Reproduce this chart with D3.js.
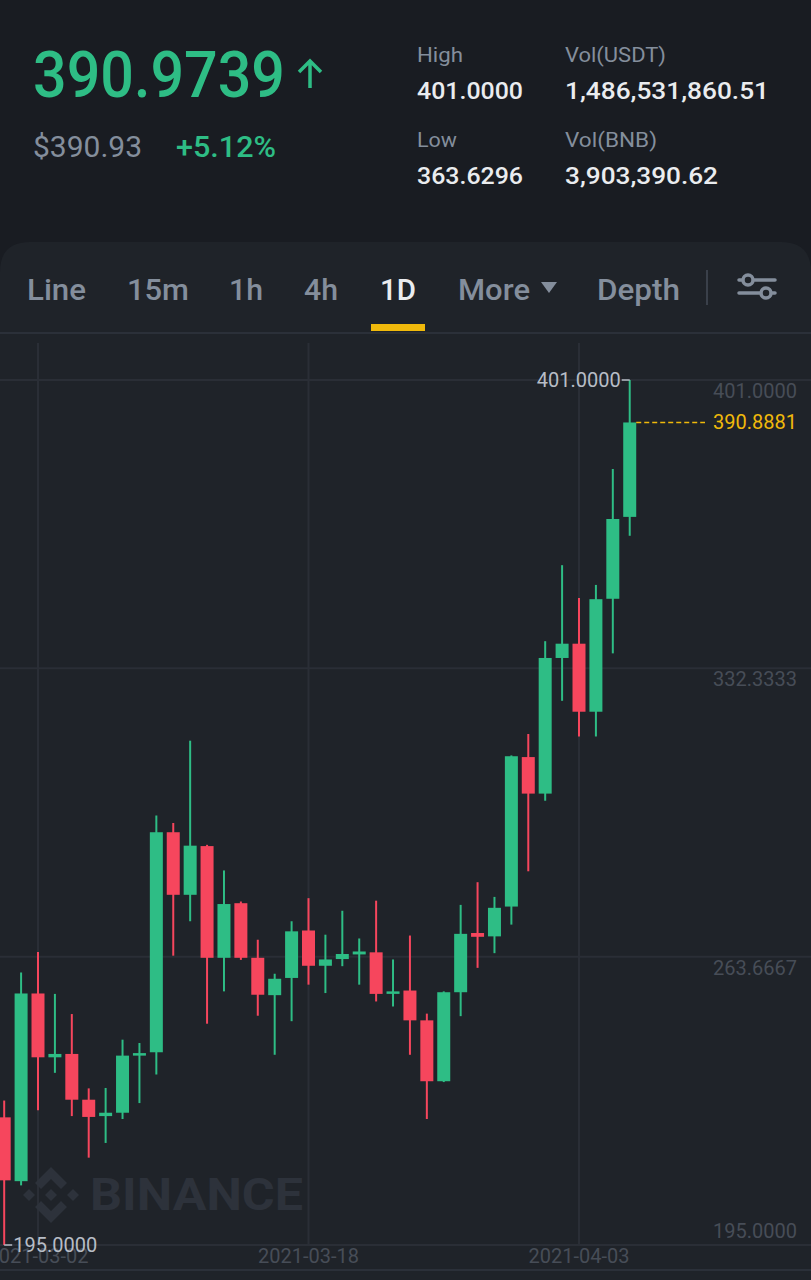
<!DOCTYPE html>
<html>
<head>
<meta charset="utf-8">
<script src="https://cdn.jsdelivr.net/npm/d3@7"></script>
<style>
  html, body { margin: 0; padding: 0; background: #191c22; }
  svg { display: block; font-family: Roboto, "Noto Sans", sans-serif; }
</style>
</head>
<body>
<div id="area"></div>
<script>
'use strict';

// daily candles BNB/USDT
const dates = ['2021-02-28','2021-03-01','2021-03-02','2021-03-03','2021-03-04','2021-03-05','2021-03-06',
  '2021-03-07','2021-03-08','2021-03-09','2021-03-10','2021-03-11','2021-03-12','2021-03-13','2021-03-14',
  '2021-03-15','2021-03-16','2021-03-17','2021-03-18','2021-03-19','2021-03-20','2021-03-21','2021-03-22',
  '2021-03-23','2021-03-24','2021-03-25','2021-03-26','2021-03-27','2021-03-28','2021-03-29','2021-03-30',
  '2021-03-31','2021-04-01','2021-04-02','2021-04-03','2021-04-04','2021-04-05','2021-04-06'];
const opens  = [225.4,210.2,254.9,239.7,240.5,229.6,225.7,226.5,240.1,240.9,293.3,278.4,290.0,263.4,276.4,
  263.4,254.5,258.6,269.9,261.5,263.1,264.2,264.7,254.9,255.6,248.5,234.0,255.2,269.3,268.5,275.6,
  311.2,302.5,334.8,338.2,322.0,348.9,368.4];
const highs  = [229.4,259.9,264.8,254.8,250.0,232.3,232.4,243.9,243.1,297.3,295.5,315.1,290.3,284.2,276.8,
  267.7,259.6,272.1,277.6,268.9,274.6,268.0,277.0,263.0,268.7,250.1,255.4,276.0,281.4,277.9,311.6,
  316.7,338.8,356.9,349.1,352.2,379.8,401.0];
const lows   = [195.0,209.2,227.1,236.0,225.7,215.8,219.3,225.0,228.8,235.6,263.9,272.1,247.7,255.4,262.9,
  249.6,240.3,248.3,257.0,255.0,261.4,257.0,253.0,251.8,240.3,225.0,233.8,249.5,261.0,264.5,271.3,
  284.0,300.8,324.6,316.1,316.1,335.9,363.9];
const closes = [210.4,254.9,239.7,240.5,229.6,225.5,226.5,240.1,240.7,293.3,278.4,290.1,263.4,276.2,263.4,
  254.6,258.4,269.7,261.5,263.0,264.3,264.9,254.8,255.4,248.5,234.0,255.2,269.1,268.4,275.3,311.4,
  302.5,334.8,338.2,322.0,348.8,367.9,390.8881];

const priceTicks = [401.0000, 332.3333, 263.6667, 195.0000];
const dateTicks = ['2021-03-02', '2021-03-18', '2021-04-03'];

// header
const lastTrade = '390.9739';
const fiatPrice = '$390.93';
const changePct = '+5.12%';
const statLabels = ['High', 'Vol(USDT)', 'Low', 'Vol(BNB)'];
const statValues = ['401.0000', '1,486,531,860.51', '363.6296', '3,903,390.62'];

// tab bar
const tabs = ['Line', '15m', '1h', '4h', '1D', 'More', 'Depth'];
const activeTab = '1D';

const W = 811, H = 1280;
const GREEN = '#2ebd85', RED = '#f6465d', YELLOW = '#f0b90b';
const GRAY = '#848e9c', WHITE = '#eaecef', DIM = '#474d57', GRID = '#2a2e36';
const PANEL = '#1f2329';

const svg = d3.select('#area').append('svg').attr('width', W).attr('height', H);

// ---------- header ----------
svg.append('rect').attr('width', W).attr('height', H).attr('fill', '#191c22');

svg.append('text').attr('x', 33).attr('y', 97).text(lastTrade)
  .attr('font-size', 64).attr('font-weight', 500).attr('fill', GREEN)
  .attr('textLength', 252).attr('lengthAdjust', 'spacingAndGlyphs');
svg.append('path').attr('d', 'M310,88 V61 M299,72 L310,61 L321,72')
  .attr('stroke', GREEN).attr('stroke-width', 3.5).attr('fill', 'none');

svg.append('text').attr('x', 33).attr('y', 157).text(fiatPrice)
  .attr('font-size', 29).attr('fill', GRAY)
  .attr('textLength', 109).attr('lengthAdjust', 'spacingAndGlyphs');
svg.append('text').attr('x', 176).attr('y', 157).text(changePct)
  .attr('font-size', 29).attr('font-weight', 500).attr('fill', GREEN)
  .attr('textLength', 100).attr('lengthAdjust', 'spacingAndGlyphs');

const statX = [417, 565, 417, 565];
const statY = [62, 62, 147, 147];
const statLW = [46, 101, 40, 92];
const statVW = [106, 204, 106, 153];
statLabels.forEach(function (s, i) {
  svg.append('text').attr('x', statX[i]).attr('y', statY[i]).text(s)
    .attr('font-size', 21).attr('fill', GRAY)
    .attr('textLength', statLW[i]).attr('lengthAdjust', 'spacingAndGlyphs');
  svg.append('text').attr('x', statX[i]).attr('y', statY[i] + 37).text(statValues[i])
    .attr('font-size', 24).attr('font-weight', 500).attr('fill', WHITE)
    .attr('textLength', statVW[i]).attr('lengthAdjust', 'spacingAndGlyphs');
});

// ---------- panel with tabs ----------
svg.append('path')
  .attr('d', 'M0,' + H + ' V272 Q0,242 30,242 H781 Q811,242 811,272 V' + H + ' Z')
  .attr('fill', PANEL);

const tabX = [27, 127, 229, 304, 380, 458, 597];
const tabW = [59, 62, 34, 34, 36, 72, 83];
tabs.forEach(function (t, i) {
  svg.append('text').attr('x', tabX[i]).attr('y', 300).text(t)
    .attr('font-size', 29).attr('font-weight', 500)
    .attr('fill', t === activeTab ? WHITE : GRAY)
    .attr('textLength', tabW[i]).attr('lengthAdjust', 'spacingAndGlyphs');
});
svg.append('path').attr('d', 'M541,282 L557,282 L549,293 Z').attr('fill', GRAY);
svg.append('line').attr('x1', 707).attr('x2', 707).attr('y1', 270).attr('y2', 305)
  .attr('stroke', '#3a404a').attr('stroke-width', 2);
// settings icon
svg.append('path').attr('d', 'M739,280 H775 M739,293 H775')
  .attr('stroke', GRAY).attr('stroke-width', 3.5).attr('stroke-linecap', 'round');
[[748, 280], [766, 293]].forEach(function (c) {
  svg.append('circle').attr('cx', c[0]).attr('cy', c[1]).attr('r', 5)
    .attr('fill', PANEL).attr('stroke', GRAY).attr('stroke-width', 3.5);
});
svg.append('rect').attr('x', 371).attr('y', 324).attr('width', 54).attr('height', 7).attr('fill', YELLOW);
svg.append('line').attr('x1', 0).attr('x2', W).attr('y1', 333).attr('y2', 333)
  .attr('stroke', '#2b3039').attr('stroke-width', 2);

// ---------- chart ----------
const parse = d3.utcParse('%Y-%m-%d');
const candles = dates.map(function (d, i) {
  return { date: parse(d), o: opens[i], h: highs[i], l: lows[i], c: closes[i] };
});

const x = d3.scaleUtc().domain([parse(dateTicks[0]), parse(dateTicks[2])]).range([38, 579]);
const y = d3.scaleLinear().domain([195, 401]).range([1245, 380]);
const bodyW = 13;

svg.append('clipPath').attr('id', 'plot').append('rect')
  .attr('x', 0).attr('y', 334).attr('width', W).attr('height', 936);
const chart = svg.append('g').attr('clip-path', 'url(#plot)');

// grid
chart.selectAll('.hgrid').data(priceTicks).join('line').attr('class', 'hgrid')
  .attr('x1', 0).attr('x2', W).attr('y1', d => y(d)).attr('y2', d => y(d))
  .attr('stroke', GRID).attr('stroke-width', 2);
chart.selectAll('.vgrid').data(dateTicks).join('line').attr('class', 'vgrid')
  .attr('x1', d => x(parse(d))).attr('x2', d => x(parse(d)))
  .attr('y1', 343).attr('y2', y(195))
  .attr('stroke', GRID).attr('stroke-width', 2);

// watermark
const logo = chart.append('g').attr('transform', 'translate(51,1195)').attr('fill', '#2d323b');
['M0,-28 L16,-12 L10,-6 L0,-16 L-10,-6 L-16,-12 Z',
 'M0,28 L16,12 L10,6 L0,16 L-10,6 L-16,12 Z',
 'M-28,0 L-22,-6 L-16,0 L-22,6 Z',
 'M28,0 L22,-6 L16,0 L22,6 Z',
 'M0,-6 L6,0 L0,6 L-6,0 Z'].forEach(function (d) { logo.append('path').attr('d', d); });
chart.append('text').attr('x', 90).attr('y', 1210).text('BINANCE')
  .attr('font-size', 45).attr('font-weight', 700).attr('fill', '#2d323b')
  .attr('textLength', 213).attr('lengthAdjust', 'spacingAndGlyphs');

// axes labels
const fmt = d3.format('.4f');
chart.selectAll('.ylab').data(priceTicks).join('text').attr('class', 'ylab')
  .attr('x', 797).attr('text-anchor', 'end')
  .attr('y', d => d === 195 ? y(d) - 7 : y(d) + 18)
  .attr('font-size', 20).attr('fill', DIM)
  .text(d => fmt(d));

chart.selectAll('.xlab').data(dateTicks).join('text').attr('class', 'xlab')
  .attr('x', d => x(parse(d))).attr('y', 1263).attr('text-anchor', 'middle')
  .attr('font-size', 20).attr('fill', DIM)
  .text(d => d);

// candles
const g = chart.selectAll('.candle').data(candles).join('g').attr('class', 'candle')
  .attr('fill', d => d.c >= d.o ? GREEN : RED)
  .attr('stroke', d => d.c >= d.o ? GREEN : RED);
g.append('line')
  .attr('x1', d => x(d.date)).attr('x2', d => x(d.date))
  .attr('y1', d => y(d.h)).attr('y2', d => y(d.l))
  .attr('stroke-width', 2);
g.append('rect')
  .attr('x', d => x(d.date) - bodyW / 2).attr('width', bodyW)
  .attr('y', d => y(Math.max(d.o, d.c)))
  .attr('height', d => Math.max(2.5, Math.abs(y(d.o) - y(d.c))))
  .attr('stroke', 'none');

// highest / lowest markers
const hiC = candles[d3.maxIndex(candles, d => d.h)];
const loC = candles[d3.minIndex(candles, d => d.l)];
chart.append('line').attr('x1', x(hiC.date) - 8).attr('x2', x(hiC.date))
  .attr('y1', y(hiC.h)).attr('y2', y(hiC.h)).attr('stroke', '#b7bdc6').attr('stroke-width', 1.5);
chart.append('text').attr('x', x(hiC.date) - 9).attr('y', y(hiC.h) + 7)
  .attr('text-anchor', 'end').attr('font-size', 20).attr('fill', '#b7bdc6').text(fmt(hiC.h));
chart.append('line').attr('x1', x(loC.date)).attr('x2', x(loC.date) + 8)
  .attr('y1', y(loC.l)).attr('y2', y(loC.l)).attr('stroke', '#b7bdc6').attr('stroke-width', 1.5);
chart.append('text').attr('x', x(loC.date) + 9).attr('y', y(loC.l) + 7)
  .attr('font-size', 20).attr('fill', '#b7bdc6').text(fmt(loC.l));

// last price line
const last = candles[candles.length - 1];
chart.append('line').attr('x1', x(last.date) + bodyW / 2).attr('x2', 705)
  .attr('y1', y(last.c)).attr('y2', y(last.c))
  .attr('stroke', YELLOW).attr('stroke-width', 1.5).attr('stroke-dasharray', '5,3');
chart.append('text').attr('x', 797).attr('y', y(last.c) + 7).attr('text-anchor', 'end')
  .attr('font-size', 20).attr('fill', YELLOW).text(fmt(last.c));

// bottom border
svg.append('line').attr('x1', 0).attr('x2', W).attr('y1', 1270).attr('y2', 1270)
  .attr('stroke', '#2b3039').attr('stroke-width', 2);
</script>
</body>
</html>
